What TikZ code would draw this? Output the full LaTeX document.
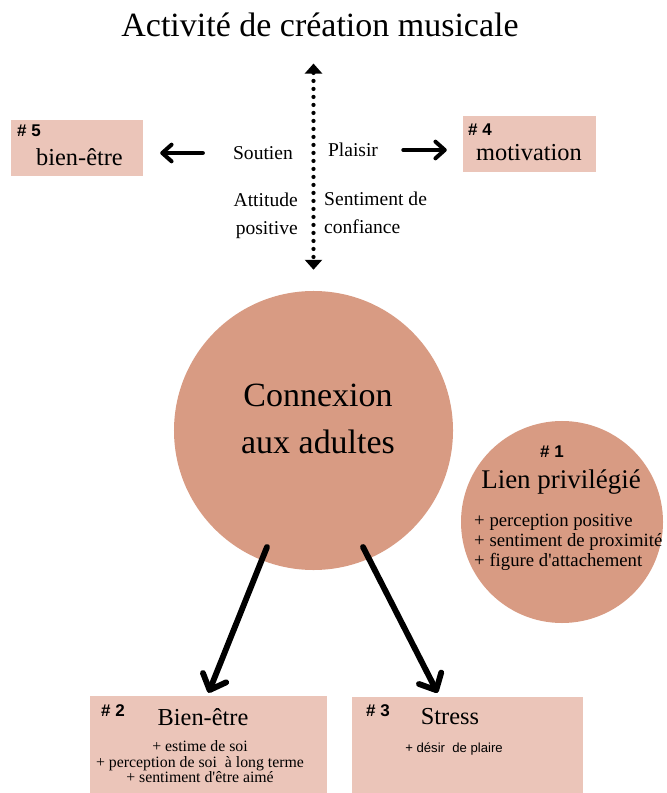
\documentclass[tikz,border=0pt]{standalone}
\usepackage{fontspec}
\setmainfont{Liberation Serif}
\setsansfont{Liberation Sans}
\usetikzlibrary{arrows.meta}
\definecolor{saumon}{HTML}{D89B83}
\definecolor{rosepale}{HTML}{EBC5B9}

\begin{document}
\begin{tikzpicture}[x=0.03cm, y=-0.03cm,
    titre/.style={inner sep=0pt, font=\fontsize{29}{34}\selectfont},
    grand/.style={inner sep=0pt, align=center, font=\fontsize{29}{40}\selectfont},
    moyen/.style={inner sep=0pt, font=\fontsize{20.8}{24}\selectfont},
    petit/.style={inner sep=0pt, font=\fontsize{16.7}{23.8}\selectfont},
    liste/.style={inner sep=0pt, align=left, font=\fontsize{16}{17}\selectfont},
    liste2/.style={inner sep=0pt, align=center, font=\fontsize{13.5}{13.2}\selectfont},
    diese/.style={inner sep=0pt, font=\sffamily\bfseries\fontsize{14.5}{16}\selectfont},
    boite/.style={fill=rosepale, inner sep=0pt},
    rond/.style={circle, fill=saumon, inner sep=0pt},
    fleche/.style={line width=3.4pt, line cap=round, -{Straight Barb[length=2.8mm, width=5mm, round]}},
    grosse/.style={line width=5pt, line cap=round, -{Straight Barb[length=4mm, width=7.5mm, round]}},
    pointille/.style={line width=3.6pt, line cap=round, dash pattern=on 0pt off 2.4mm,
        {Triangle[length=3mm, width=5.1mm]}-{Triangle[length=3mm, width=5.1mm]}}
]
    \useasboundingbox (0,0) rectangle (666,793);

    \node[titre, anchor=base] (titre) at (320,37) {Activité de création musicale};

    \node[rond, minimum size=8.37cm] (adultes) at (313.5,430.5) {};
    \node[grand] (connexion) at (318,419) {Connexion\\aux adultes};

    \node[rond, minimum size=6.06cm] (lien) at (562,522) {};
    \node[diese] (d1) at (552,452) {\# 1};
    \node[inner sep=0pt, font=\fontsize{23}{26}\selectfont] (privilegie) at (561,482) {Lien privilégié};
    \node[liste, anchor=west] (listelien) at (474,542) {+ perception positive\\+ sentiment de proximité\\+ figure d\textquotesingle attachement};

    \node[boite, minimum width=3.96cm, minimum height=1.68cm] (boite5) at (77,148) {};
    \node[diese] (d5) at (29,131) {\# 5};
    \node[moyen] (bien5) at (79.5,157) {bien-être};

    \node[boite, minimum width=3.99cm, minimum height=1.68cm] (boite4) at (529.5,144) {};
    \node[diese] (d4) at (480,130) {\# 4};
    \node[moyen] (motivation) at (529,153) {motivation};

    \node[petit] (soutien) at (263,153) {Soutien};
    \node[petit] (plaisir) at (353,150) {Plaisir};
    \node[petit, align=right, anchor=east] (attitude) at (298,216) {Attitude\\positive};
    \node[petit, align=left, anchor=west] (sentiment) at (324,213) {Sentiment de\\confiance};

    \node[boite, minimum width=7.11cm, minimum height=2.91cm] (boite2) at (208.5,744.5) {};
    \node[diese] (d2) at (113,711) {\# 2};
    \node[moyen] (bien2) at (203,717) {Bien-être};
    \node[liste2] (liste2) at (200,762) {+ estime de soi\\+ perception de soi\ \ à long terme\\+ sentiment d\textquotesingle être aimé};

    \node[boite, minimum width=6.93cm, minimum height=2.88cm] (boite3) at (467.5,745) {};
    \node[diese] (d3) at (378,711) {\# 3};
    \node[moyen] (stress) at (450,717) {Stress};
    \node[inner sep=0pt, font=\sffamily\fontsize{11.2}{13}\selectfont] (desir) at (454,749) {+ désir\ \ de plaire};

    \draw[pointille, shorten <=0.78cm, shorten >=0.63cm] (titre.south -| adultes.north) -- (adultes.north);
    \draw[fleche, shorten <=0.9cm, shorten >=0.51cm] (soutien.west) -- (boite5.east |- soutien.west);
    \draw[fleche, shorten <=0.75cm, shorten >=0.48cm] (plaisir.east) -- (boite4.west |- plaisir.east);
    \draw[grosse] ([shift={(-46.5,116.5)}]adultes.center) -- ([shift={(0,-3)}]boite2.north);
    \draw[grosse] ([shift={(49.5,116.5)}]adultes.center) -- ([shift={(-30,-4)}]boite3.north);
\end{tikzpicture}
\end{document}
